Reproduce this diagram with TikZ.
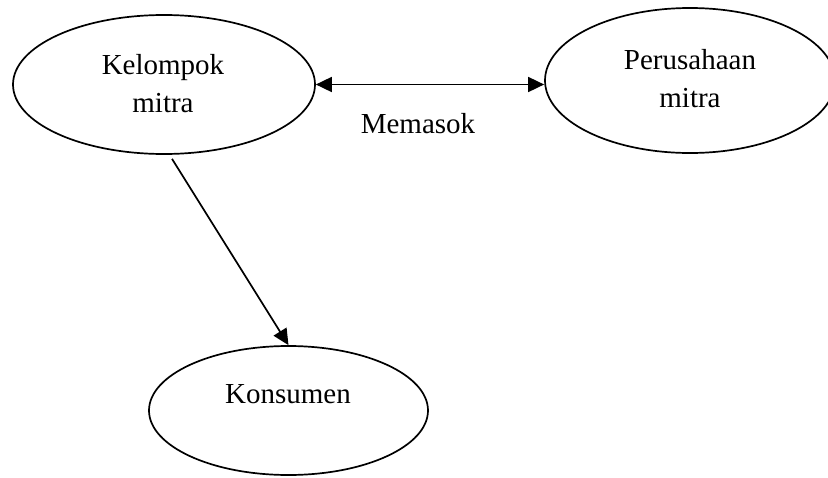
\documentclass[tikz,border=0pt]{standalone}
\usepackage{fontspec}
\setmainfont{Liberation Serif}
\usetikzlibrary{shapes.geometric,arrows.meta}
\begin{document}
\begin{tikzpicture}[x=1pt,y=-1pt,
  oval/.style={draw,ellipse,line width=1.7pt,inner sep=0pt},
  txt/.style={font=\fontsize{29}{38}\selectfont,align=center,anchor=base,inner sep=0pt},
  link/.style={line width=1.7pt,-{Triangle[length=16pt,width=15pt]}},
  both/.style={line width=1.7pt,{Triangle[length=16pt,width=15pt]}-{Triangle[length=16pt,width=15pt]}}]
\useasboundingbox (0,0) rectangle (828,477);

% ellipses
\node[oval,minimum width=302pt,minimum height=139pt] (kel) at (164,84.5) {};
\node[oval,minimum width=290pt,minimum height=145pt] (per) at (690,80.5) {};
\node[oval,minimum width=279pt,minimum height=129pt] (kon) at (288.5,410.5) {};

% labels (anchored at the baseline of the last line)
\node[txt] (kelt) at (163,112) {Kelompok\\mitra};
\node[txt] (pert) at (690,107) {Perusahaan\\mitra};
\node[txt] (kont) at (288,403) {Konsumen};
\node[txt] (mem) at (418,133) {Memasok};

% connectors
\draw[both] (kel.east) -- (kel.east -| per.west);
\draw[link] ([xshift=8pt,yshift=-4pt]kel.south) -- (kon.north);
\end{tikzpicture}
\end{document}
